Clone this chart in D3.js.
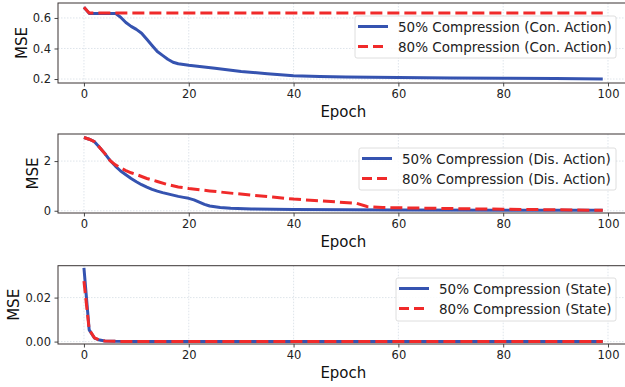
<!DOCTYPE html>
<html>
<head>
<meta charset="utf-8">
<script src="https://cdn.jsdelivr.net/npm/d3@7"></script>
<style>
  html, body { margin: 0; padding: 0; background: #fff; }
  svg { display: block; font-family: "DejaVu Sans", sans-serif; }
</style>
</head>
<body>
<svg id="chart" width="625" height="387"></svg>
<script>
// Training curves: [epoch, MSE]
const conAction50 = [[0,0.67],[1,0.63],[2,0.63],[4,0.63],[6,0.63],[7,0.605],[8,0.57],[9,0.545],[10,0.525],[11,0.50],[12,0.46],[13,0.42],[14,0.38],[15,0.355],[16,0.33],[17,0.31],[18,0.30],[20,0.29],[25,0.27],[30,0.25],[35,0.235],[40,0.222],[45,0.217],[50,0.213],[60,0.21],[70,0.207],[80,0.205],[90,0.203],[99,0.2]];
const conAction80 = [[0,0.67],[1,0.632],[10,0.632],[30,0.632],[60,0.632],[99,0.632]];

const disAction50 = [[0,2.95],[1,2.88],[2,2.78],[3,2.55],[4,2.3],[5,2.02],[6,1.8],[7,1.6],[8,1.45],[9,1.3],[10,1.17],[11,1.05],[12,0.95],[13,0.86],[14,0.79],[15,0.73],[16,0.68],[17,0.63],[18,0.58],[19,0.54],[20,0.5],[21,0.44],[22,0.35],[23,0.26],[24,0.19],[26,0.13],[28,0.1],[32,0.075],[40,0.055],[50,0.04],[60,0.03],[80,0.022],[99,0.018]];
const disAction80 = [[0,2.95],[1,2.88],[2,2.78],[3,2.55],[4,2.3],[5,2.02],[6,1.85],[7,1.72],[8,1.62],[9,1.53],[10,1.46],[12,1.3],[14,1.18],[16,1.05],[18,0.96],[20,0.9],[24,0.8],[28,0.71],[32,0.63],[36,0.55],[40,0.47],[44,0.41],[48,0.36],[52,0.3],[54,0.17],[57,0.13],[60,0.12],[70,0.09],[80,0.06],[90,0.04],[99,0.02]];

const state50 = [[0,0.0335],[1,0.0053],[2,0.0016],[3,0.0007],[4,0.0003],[6,0.0001],[10,0.00005],[30,0.00002],[60,0.00001],[99,0.00001]];
const state80 = [[0,0.0275],[1,0.0055],[2,0.0017],[3,0.0007],[4,0.0003],[6,0.0001],[10,0.00005],[30,0.00002],[60,0.00001],[99,0.00001]];

const xTicks = [0, 20, 40, 60, 80, 100];
const yTicksCon = [0.2, 0.4, 0.6];
const yTicksDis = [0, 2];
const yTicksState = [0.00, 0.02];

const legendCon = ["50% Compression (Con. Action)", "80% Compression (Con. Action)"];
const legendDis = ["50% Compression (Dis. Action)", "80% Compression (Dis. Action)"];
const legendState = ["50% Compression (State)", "80% Compression (State)"];

const BLUE = "#3553b0";
const RED = "#f02a2a";

const svg = d3.select("#chart");
const left = 58, right = 628.7;
const x = d3.scaleLinear().domain([-4.95, 103.95]).range([left, right]);

const panels = [
  { top: 3, bottom: 83, yDomain: [0.174, 0.698], yTicks: yTicksCon, fmt: d3.format(".1f"),
    s50: conAction50, s80: conAction80, legend: legendCon, legBox: [355, 16, 616, 58] },
  { top: 134, bottom: 213, yDomain: [-0.09, 3.09], yTicks: yTicksDis, fmt: d3.format("d"),
    s50: disAction50, s80: disAction80, legend: legendDis, legBox: [359, 148, 616, 190] },
  { top: 265.7, bottom: 344, yDomain: [-0.0011, 0.0345], yTicks: yTicksState, fmt: d3.format(".2f"),
    s50: state50, s80: state80, legend: legendState, legBox: [396, 278, 616, 321] }
];

panels.forEach((p, i) => {
  const y = d3.scaleLinear().domain(p.yDomain).range([p.bottom, p.top]);
  const g = svg.append("g");
  const clipId = "clip" + i;
  svg.append("clipPath").attr("id", clipId)
    .append("rect").attr("x", left).attr("y", p.top).attr("width", right - left).attr("height", p.bottom - p.top);

  // grid
  g.append("g").selectAll("line").data(xTicks).join("line")
    .attr("x1", d => x(d)).attr("x2", d => x(d)).attr("y1", p.top).attr("y2", p.bottom)
    .attr("stroke", "#c9d3de").attr("stroke-width", 0.6).attr("stroke-dasharray", "1.5,1.5");
  g.append("g").selectAll("line").data(p.yTicks).join("line")
    .attr("x1", left).attr("x2", right).attr("y1", d => y(d)).attr("y2", d => y(d))
    .attr("stroke", "#c9d3de").attr("stroke-width", 0.6).attr("stroke-dasharray", "1.5,1.5");

  // axes
  const xAxis = d3.axisBottom(x).tickValues(xTicks).tickSize(3.5).tickPadding(3.5).tickFormat(d3.format("d"));
  const yAxis = d3.axisLeft(y).tickValues(p.yTicks).tickSize(3.5).tickPadding(3.5).tickFormat(p.fmt);
  const gx = g.append("g").attr("transform", `translate(0,${p.bottom})`).call(xAxis);
  const gy = g.append("g").attr("transform", `translate(${left},0)`).call(yAxis);
  [gx, gy].forEach(a => {
    a.select(".domain").remove();
    a.selectAll(".tick line").attr("stroke", "#333").attr("stroke-width", 0.9);
    a.selectAll(".tick text").attr("fill", "#222").style("font-size", "11.5px")
      .style("font-family", "DejaVu Sans, sans-serif");
  });

  // lines
  const line = d3.line().x(d => x(d[0])).y(d => y(d[1]));
  const lines = g.append("g").attr("clip-path", `url(#${clipId})`);
  lines.append("path").datum(p.s50).attr("d", line)
    .attr("fill", "none").attr("stroke", BLUE).attr("stroke-width", 3).attr("stroke-linejoin", "round");
  lines.append("path").datum(p.s80).attr("d", line)
    .attr("fill", "none").attr("stroke", RED).attr("stroke-width", 3).attr("stroke-dasharray", "12,5");

  // frame
  g.append("rect").attr("x", left).attr("y", p.top).attr("width", right - left).attr("height", p.bottom - p.top)
    .attr("fill", "none").attr("stroke", "#3a3333").attr("stroke-width", 1);

  // axis labels
  let maxW = 0;
  gy.selectAll(".tick text").each(function () { maxW = Math.max(maxW, this.getBBox().width); });
  const ylx = left - 3.5 - 3.5 - maxW - 11;
  g.append("text").attr("transform", `translate(${ylx},${(p.top + p.bottom) / 2}) rotate(-90)`)
    .attr("text-anchor", "middle").attr("dominant-baseline", "central")
    .style("font-size", "15px").attr("fill", "#111").text("MSE");
  g.append("text").attr("x", (left + right) / 2).attr("y", p.bottom + 34)
    .attr("text-anchor", "middle").style("font-size", "15px").attr("fill", "#111").text("Epoch");

  // legend
  const [lx0, ly0, lx1, ly1] = p.legBox;
  const lg = g.append("g");
  lg.append("rect").attr("x", lx0).attr("y", ly0).attr("width", lx1 - lx0).attr("height", ly1 - ly0)
    .attr("rx", 2).attr("fill", "#fff").attr("fill-opacity", 0.85).attr("stroke", "#d6d6d6").attr("stroke-width", 0.8);
  const rowY = [ly0 + 10.5, ly0 + 30.5];
  const styles = [{ c: BLUE, dash: null }, { c: RED, dash: "10,5" }];
  p.legend.forEach((t, k) => {
    lg.append("line").attr("x1", lx0 + 3).attr("x2", lx0 + 33).attr("y1", rowY[k]).attr("y2", rowY[k])
      .attr("stroke", styles[k].c).attr("stroke-width", 3).attr("stroke-dasharray", styles[k].dash);
    lg.append("text").attr("x", lx0 + 43).attr("y", rowY[k]).attr("dominant-baseline", "central")
      .style("font-size", "13.5px").attr("fill", "#222").text(t);
  });
});
</script>
</body>
</html>
